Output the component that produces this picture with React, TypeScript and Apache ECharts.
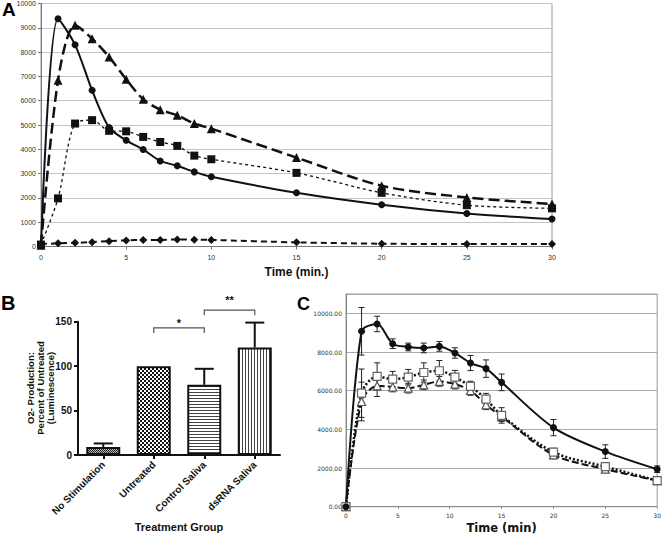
import React, { useEffect, useRef } from 'react';
import * as echarts from 'echarts';

// ---------- Panel A data ----------
const aTime = [0, 1, 2, 3, 4, 5, 6, 7, 8, 9, 10, 15, 20, 25, 30];
const aCircle = [50, 9370, 8300, 6430, 4900, 4370, 3990, 3520, 3320, 3070, 2870, 2210, 1720, 1360, 1130];
const aTriangle = [50, 6840, 9100, 8550, 7800, 6880, 6060, 5630, 5400, 5060, 4850, 3660, 2500, 2020, 1750];
const aSquare = [80, 1980, 5060, 5200, 4760, 4740, 4510, 4300, 4140, 3740, 3590, 3030, 2210, 1700, 1570];
const aDiamond = [100, 130, 150, 180, 220, 250, 270, 270, 290, 280, 270, 170, 115, 100, 100];

// ---------- Panel B data ----------
const bCategories = ['No Stimulation', 'Untreated', 'Control Saliva', 'dsRNA Saliva'];
const bValues = [9, 100, 79, 121];
const bErrors = [4, 0, 18, 28];
const bBracketFrom = [1, 2];
const bBracketTo = [2, 3];
const bBracketY = [143, 163];
const bBracketLabelY = [148, 174];
const bBracketLabels = ['*', '**'];
const bYTitleLines = ['O2- Production:', 'Percent of Untreated', '(Luminescence)'];

// ---------- Panel C data ----------
const cTime = [0, 1.5, 3, 4.5, 6, 7.5, 9, 10.5, 12, 13.5, 15, 20, 25, 30];
const cCircle = [0, 9070, 9450, 8430, 8260, 8210, 8290, 7950, 7430, 7140, 6430, 4090, 2850, 1940];
const cCircleErr = [0, 1230, 400, 250, 200, 250, 250, 270, 390, 450, 430, 420, 350, 170];
const cSquare = [0, 5870, 6740, 6600, 6700, 6940, 7030, 6700, 6220, 5560, 4720, 2820, 2070, 1350];
const cSquareErr = [0, 1250, 700, 400, 400, 500, 530, 350, 270, 300, 400, 200, 150, 100];
const cTriangle = [0, 5440, 6250, 6190, 6130, 6300, 6480, 6340, 6010, 5270, 4660, 2680, 1940, 1350];
const cTriangleErr = [0, 1000, 550, 250, 250, 250, 250, 250, 250, 250, 250, 200, 150, 100];

const ARIAL = 'Liberation Sans, Arial, sans-serif';
const VERDANA = 'DejaVu Sans, Verdana, sans-serif';

function pattern(svg: string, w: number, h: number) {
  return {
    image: 'data:image/svg+xml;charset=utf-8,' + encodeURIComponent(svg),
    repeat: 'repeat',
    imageWidth: w,
    imageHeight: h,
  };
}

const patFine = pattern(
  "<svg xmlns='http://www.w3.org/2000/svg' width='2' height='2'><rect width='2' height='2' fill='#bbb'/><rect width='1' height='1' fill='#222'/><rect x='1' y='1' width='1' height='1' fill='#222'/></svg>",
  2, 2
);
const patChecker = pattern(
  "<svg xmlns='http://www.w3.org/2000/svg' width='4' height='4'><rect width='4' height='4' fill='#fff'/><rect width='2' height='2' fill='#111'/><rect x='2' y='2' width='2' height='2' fill='#111'/></svg>",
  4, 4
);
const patHoriz = pattern(
  "<svg xmlns='http://www.w3.org/2000/svg' width='3' height='3'><rect width='3' height='3' fill='#fff'/><rect y='2' width='3' height='1' fill='#444'/></svg>",
  3, 3
);
const patVert = pattern(
  "<svg xmlns='http://www.w3.org/2000/svg' width='3' height='3'><rect width='3' height='3' fill='#fff'/><rect x='2' width='1' height='3' fill='#444'/></svg>",
  3, 3
);
const bPatterns = [patFine, patChecker, patHoriz, patVert];

function pairs(xs: number[], ys: number[]) {
  return xs.map((x, i) => [x, ys[i]]);
}

function errorSeries(vals: number[], errs: number[]) {
  const data = cTime
    .map((t, i) => [t, vals[i] - errs[i], vals[i] + errs[i]])
    .filter((d, i) => errs[i] > 0);
  return {
    type: 'custom',
    xAxisIndex: 2,
    yAxisIndex: 2,
    silent: true,
    z: 3,
    encode: { x: 0, y: [1, 2] },
    data,
    renderItem: (params: any, api: any) => {
      const lo = api.coord([api.value(0), api.value(1)]);
      const hi = api.coord([api.value(0), api.value(2)]);
      const w = 3;
      const st = { stroke: '#222', lineWidth: 1 };
      return {
        type: 'group',
        children: [
          { type: 'line', shape: { x1: lo[0], y1: lo[1], x2: hi[0], y2: hi[1] }, style: st },
          { type: 'line', shape: { x1: lo[0] - w, y1: lo[1], x2: lo[0] + w, y2: lo[1] }, style: st },
          { type: 'line', shape: { x1: hi[0] - w, y1: hi[1], x2: hi[0] + w, y2: hi[1] }, style: st },
        ],
      };
    },
  };
}

export default function App() {
  const ref = useRef<HTMLDivElement>(null);

  useEffect(() => {
    if (!ref.current) return;
    const chart = echarts.init(ref.current, null, { renderer: 'svg' });

    const titleX = [30.5, 40.3, 50];

    const option: any = {
      animation: false,
      backgroundColor: '#fff',
      grid: [
        { left: 41, top: 3, width: 511, height: 243.5, show: true, borderColor: '#999', borderWidth: 1 },
        { left: 78, top: 321.7, width: 202, height: 133.3 },
        { left: 346, top: 294, width: 314, height: 212.7, show: true, borderColor: '#999', borderWidth: 1 },
      ],
      xAxis: [
        {
          type: 'value', gridIndex: 0, min: 0, max: 30, interval: 5,
          axisLine: { show: true, lineStyle: { color: '#777', width: 1 } },
          axisTick: { show: true, length: 3, lineStyle: { color: '#777' } },
          axisLabel: { fontSize: 7, color: '#333', margin: 7, fontFamily: ARIAL, formatter: (v: number) => String(v) },
          splitLine: { show: false },
          name: 'Time (min.)', nameLocation: 'middle', nameGap: 19,
          nameTextStyle: { fontSize: 12, fontWeight: 'bold', color: '#111', fontFamily: ARIAL },
        },
        {
          type: 'category', gridIndex: 1, data: bCategories,
          axisLine: { show: true, lineStyle: { color: '#111', width: 2 } },
          axisTick: { show: true, alignWithLabel: true, length: 4, lineStyle: { color: '#111', width: 2 } },
          axisLabel: { rotate: 45, interval: 0, fontSize: 10, fontWeight: 'bold', color: '#111', margin: 8, fontFamily: ARIAL },
          name: 'Treatment Group', nameLocation: 'middle', nameGap: 66,
          nameTextStyle: { fontSize: 11, fontWeight: 'bold', color: '#111', fontFamily: ARIAL },
        },
        {
          type: 'value', gridIndex: 2, min: 0, max: 30, interval: 5,
          axisLine: { show: true, lineStyle: { color: '#888', width: 1 } },
          axisTick: { show: true, length: 2, lineStyle: { color: '#888' } },
          axisLabel: { fontSize: 6, color: '#333', margin: 6, fontFamily: VERDANA, formatter: (v: number) => String(v) },
          splitLine: { show: false },
          name: 'Time (min)', nameLocation: 'middle', nameGap: 15,
          nameTextStyle: { fontSize: 11.5, fontWeight: 'bold', color: '#111', fontFamily: VERDANA },
        },
      ],
      yAxis: [
        {
          type: 'value', gridIndex: 0, min: 0, max: 10000, interval: 1000,
          axisLine: { show: true, lineStyle: { color: '#777', width: 1 } },
          axisTick: { show: true, length: 3, lineStyle: { color: '#777' } },
          axisLabel: { fontSize: 7, color: '#333', margin: 5, fontFamily: ARIAL, formatter: (v: number) => String(v) },
          splitLine: { show: true, lineStyle: { color: '#c4c4c4', width: 1 } },
        },
        {
          type: 'value', gridIndex: 1, min: 0, max: 150, interval: 50,
          axisLine: { show: true, lineStyle: { color: '#111', width: 2 } },
          axisTick: { show: true, length: 4, lineStyle: { color: '#111', width: 2 } },
          axisLabel: { fontSize: 10, fontWeight: 'bold', color: '#111', margin: 6, fontFamily: ARIAL },
          splitLine: { show: false },
        },
        {
          type: 'value', gridIndex: 2, min: 0, max: 11000, interval: 2000,
          axisLine: { show: true, lineStyle: { color: '#888', width: 1 } },
          axisTick: { show: false },
          axisLabel: {
            fontSize: 6, color: '#333', margin: 4, fontFamily: VERDANA, showMaxLabel: false,
            formatter: (v: number) => (v > 10000 ? '' : v.toFixed(2)),
          },
          splitLine: { show: true, lineStyle: { color: '#aaa', width: 1 } },
        },
      ],
      series: [
        // ---- Panel A ----
        {
          type: 'line', xAxisIndex: 0, yAxisIndex: 0, data: pairs(aTime, aDiamond), smooth: 0.3,
          symbol: 'diamond', symbolSize: 8, itemStyle: { color: '#111' },
          lineStyle: { color: '#111', width: 2, type: [6, 4] },
        },
        {
          type: 'line', xAxisIndex: 0, yAxisIndex: 0, data: pairs(aTime, aSquare), smooth: 0.3,
          symbol: 'rect', symbolSize: 8, itemStyle: { color: '#111' },
          lineStyle: { color: '#111', width: 1.3, type: [3, 3] },
        },
        {
          type: 'line', xAxisIndex: 0, yAxisIndex: 0, data: pairs(aTime, aTriangle), smooth: 0.3,
          symbol: 'triangle', symbolSize: 9, itemStyle: { color: '#111' },
          lineStyle: { color: '#111', width: 2.5, type: [11, 5] },
        },
        {
          type: 'line', xAxisIndex: 0, yAxisIndex: 0, data: pairs(aTime, aCircle), smooth: 0.3,
          symbol: 'circle', symbolSize: 7, itemStyle: { color: '#111' },
          lineStyle: { color: '#111', width: 2 },
        },
        // ---- Panel B ----
        {
          type: 'custom', xAxisIndex: 1, yAxisIndex: 1, silent: true, z: 1,
          encode: { x: 0, y: [1, 2] },
          data: bValues.map((v, i) => [i, v, v + bErrors[i]]).filter((d, i) => bErrors[i] > 0),
          renderItem: (params: any, api: any) => {
            const lo = api.coord([api.value(0), api.value(1)]);
            const hi = api.coord([api.value(0), api.value(2)]);
            const st = { stroke: '#111', lineWidth: 2 };
            return {
              type: 'group',
              children: [
                { type: 'line', shape: { x1: lo[0], y1: lo[1], x2: hi[0], y2: hi[1] }, style: st },
                { type: 'line', shape: { x1: hi[0] - 9.5, y1: hi[1], x2: hi[0] + 9.5, y2: hi[1] }, style: st },
              ],
            };
          },
        },
        {
          type: 'bar', xAxisIndex: 1, yAxisIndex: 1, barWidth: 34, z: 2,
          data: bValues.map((v, i) => ({
            value: v,
            itemStyle: { color: bPatterns[i], borderColor: '#111', borderWidth: 2 },
          })),
        },
        {
          type: 'custom', xAxisIndex: 1, yAxisIndex: 1, silent: true, clip: false, z: 3,
          encode: { x: [0, 1], y: 2 },
          data: bBracketFrom.map((f, i) => [f, bBracketTo[i], bBracketY[i], bBracketLabelY[i]]),
          renderItem: (params: any, api: any) => {
            const i = params.dataIndex;
            const p0 = api.coord([api.value(0), api.value(2)]);
            const p1 = api.coord([api.value(1), api.value(2)]);
            const pl = api.coord([api.value(0), api.value(3)]);
            return {
              type: 'group',
              children: [
                {
                  type: 'polyline',
                  shape: { points: [[p0[0], p0[1] + 5], [p0[0], p0[1]], [p1[0], p1[1]], [p1[0], p1[1] + 5]] },
                  style: { stroke: '#555', lineWidth: 1.2, fill: 'none' },
                },
                {
                  type: 'text',
                  x: (p0[0] + p1[0]) / 2,
                  y: pl[1],
                  style: {
                    text: bBracketLabels[i], fill: '#111', fontSize: 11, fontWeight: 'bold',
                    fontFamily: ARIAL, align: 'center', verticalAlign: 'middle',
                  },
                },
              ],
            };
          },
        },
        // ---- Panel C ----
        errorSeries(cTriangle, cTriangleErr),
        errorSeries(cSquare, cSquareErr),
        errorSeries(cCircle, cCircleErr),
        {
          type: 'line', xAxisIndex: 2, yAxisIndex: 2, data: pairs(cTime, cTriangle), smooth: 0.3, z: 4,
          symbol: 'triangle', symbolSize: 8,
          itemStyle: { color: '#fff', borderColor: '#555', borderWidth: 1.2 },
          lineStyle: { color: '#111', width: 2, type: [7, 3] },
        },
        {
          type: 'line', xAxisIndex: 2, yAxisIndex: 2, data: pairs(cTime, cSquare), smooth: 0.3, z: 4,
          symbol: 'rect', symbolSize: 8,
          itemStyle: { color: '#fff', borderColor: '#666', borderWidth: 1.2 },
          lineStyle: { color: '#111', width: 2.5, type: [2, 2] },
        },
        {
          type: 'line', xAxisIndex: 2, yAxisIndex: 2, data: pairs(cTime, cCircle), smooth: 0.3, z: 4,
          symbol: 'circle', symbolSize: 7, itemStyle: { color: '#111' },
          lineStyle: { color: '#111', width: 2 },
        },
      ],
      graphic: [
        { type: 'text', left: 2, top: 0, style: { text: 'A', fontSize: 19, fontWeight: 'bold', fill: '#000', fontFamily: ARIAL } },
        { type: 'text', left: 1, top: 293, style: { text: 'B', fontSize: 20, fontWeight: 'bold', fill: '#000', fontFamily: ARIAL } },
        { type: 'text', left: 297, top: 295, style: { text: 'C', fontSize: 18, fontWeight: 'bold', fill: '#000', fontFamily: ARIAL } },
        ...bYTitleLines.map((line, i) => ({
          type: 'text', x: titleX[i], y: 388, rotation: Math.PI / 2,
          style: {
            text: line, fontSize: 9.5, fontWeight: 'bold', fill: '#111', fontFamily: ARIAL,
            align: 'center', verticalAlign: 'middle',
          },
        })),
      ],
    };

    chart.setOption(option);
    return () => chart.dispose();
  }, []);

  return (
    <div
      ref={ref}
      style={{ position: 'absolute', left: 0, top: 0, width: 664, height: 538, background: '#fff' }}
    />
  );
}
